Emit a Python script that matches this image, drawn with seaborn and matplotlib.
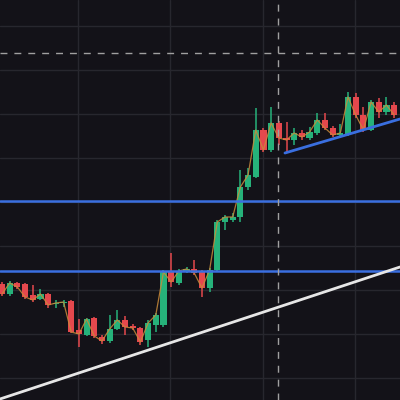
import matplotlib
matplotlib.use("Agg")
import matplotlib.pyplot as plt
import seaborn as sns
import numpy as np
import pandas as pd

# candle data (price units)
opens = [116, 106, 117, 116, 105, 101, 106, 96, 97, 99, 70, 65, 82, 63, 59, 71,
         80, 74, 72, 60, 75, 75, 128, 117, 128, 131, 128, 112, 130, 178, 180, 183,
         213, 223, 270, 250, 277, 262, 260, 267, 262, 267, 280, 272, 265, 265, 303,
         285, 270, 298, 288, 295]
closes = [106, 117, 113, 103, 100, 106, 95, 97, 98, 68, 66, 81, 64, 59, 71, 80,
          73, 72, 58, 77, 85, 128, 118, 129, 131, 127, 112, 130, 178, 183, 183, 213,
          225, 270, 250, 277, 262, 260, 267, 263, 268, 280, 272, 265, 267, 303, 285,
          270, 298, 288, 295, 285]
highs = [118, 119, 118, 117, 115, 111, 107, 100, 100, 100, 81, 82, 83, 65, 85, 90,
         84, 76, 73, 80, 87, 130, 147, 131, 133, 140, 130, 132, 180, 185, 187, 230,
         232, 292, 272, 293, 279, 278, 272, 270, 273, 287, 287, 274, 276, 308, 307,
         293, 300, 302, 303, 298]
lows = [104, 104, 111, 101, 98, 100, 92, 92, 93, 67, 53, 64, 62, 56, 57, 70,
        65, 70, 55, 53, 68, 73, 113, 115, 127, 125, 103, 108, 129, 170, 178, 178,
        210, 222, 248, 248, 255, 248, 255, 260, 260, 265, 270, 263, 263, 264, 282,
        268, 269, 282, 285, 282]

levels = [199, 129]               # horizontal support / resistance
white_trend_x = [-0.26, 51.76]
white_trend_y = [1, 133]
blue_trend_x = [36.8, 51.76]
blue_trend_y = [247, 281]
cross_x = 35.9
cross_y = 347

bg = "#131218"
green = "#26b27a"
red = "#e5484d"

sns.set_theme(style="dark", rc={"axes.facecolor": bg, "figure.facecolor": bg})

df = pd.DataFrame({"i": np.arange(len(opens)), "open": opens, "close": closes,
                   "high": highs, "low": lows})
df["up"] = df["close"] >= df["open"]
colors = np.where(df["up"], green, red)

fig = plt.figure(figsize=(4, 4), dpi=100)
ax = fig.add_axes([0, 0, 1, 1])

# grid
ax.set_xticks([9.9, 21.9, 33.9, 45.9])
ax.set_yticks(np.arange(22, 400, 44))
ax.grid(True, color="#27272e", linewidth=1)
ax.tick_params(length=0, labelbottom=False, labelleft=False)
for s in ax.spines.values():
    s.set_visible(False)

# candles
ax.vlines(df["i"], df["low"], df["high"], colors=colors, linewidth=1.1, zorder=3)
body = (df["close"] - df["open"]).abs().clip(lower=1.5)
ax.bar(df["i"], body, bottom=np.minimum(df["open"], df["close"]), width=0.8,
       color=colors, linewidth=0, edgecolor="none", zorder=4)

# close line
sns.lineplot(data=df, x="i", y="close", color="#c98a3a", linewidth=0.9,
             alpha=0.85, ax=ax, zorder=5)

for lv in levels:
    ax.axhline(lv, color="#3a6fe0", linewidth=1.8, zorder=6)
ax.plot(white_trend_x, white_trend_y, color="#e6e6e6", linewidth=2, zorder=6)
ax.plot(blue_trend_x, blue_trend_y, color="#3a6fe0", linewidth=2, zorder=6)

ax.axhline(cross_y, color="#a0a0a0", linewidth=1, linestyle=(0, (5, 5)), zorder=7)
ax.axvline(cross_x, color="#a0a0a0", linewidth=1, linestyle=(0, (5, 5)), zorder=7)

ax.set_xlim(-0.26, 51.76)
ax.set_ylim(0, 400)
ax.set_xlabel("")
ax.set_ylabel("")

fig.savefig("out.png", dpi=100, facecolor=bg)
